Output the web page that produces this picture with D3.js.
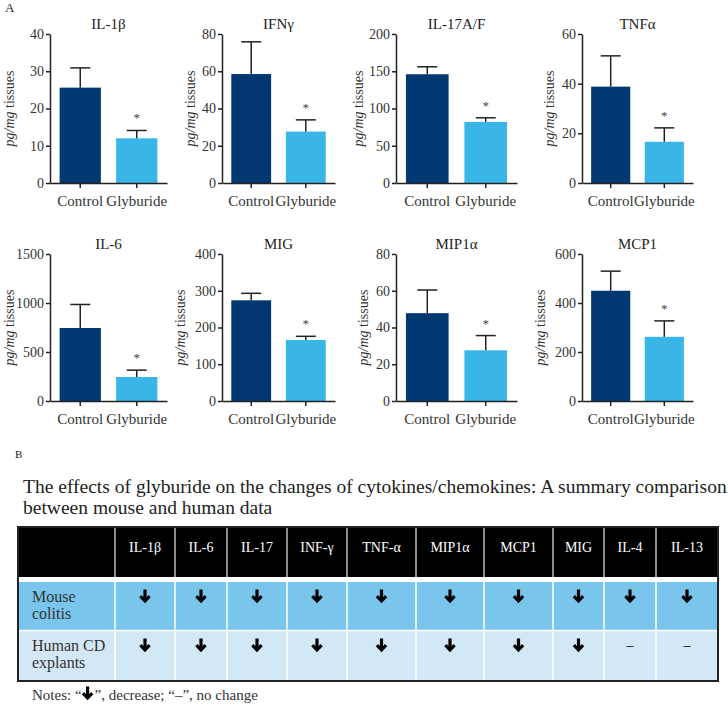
<!DOCTYPE html>
<html>
<head>
<meta charset="utf-8">
<script src="https://cdnjs.cloudflare.com/ajax/libs/d3/7.8.5/d3.min.js"></script>
<style>
body { margin: 0; background: #fff; }
</style>
</head>
<body>
<svg id="fig" width="728" height="705"></svg>
<script>
// panel A: mean and upper SEM whisker
var cytokines = ["IL-1β", "IFNγ", "IL-17A/F", "TNFα", "IL-6", "MIG", "MIP1α", "MCP1"];
var groups = ["Control", "Glyburide"];
var controlMean = [25.6, 58.5, 146, 38.8, 745, 274, 47.8, 450];
var controlSem = [5.3, 17.3, 10, 12.4, 240, 19, 12.6, 80];
var glyburideMean = [12.0, 27.6, 82, 16.6, 245, 166, 27.6, 262];
var glyburideSem = [2.1, 6.3, 5.5, 5.6, 70, 10, 8.0, 65];
var yMax = [40, 80, 200, 60, 1500, 400, 80, 600];
var yStep = [10, 20, 50, 20, 500, 100, 20, 200];

// panel B: summary table
var tableCols = ["IL-1β", "IL-6", "IL-17", "INF-γ", "TNF-α", "MIP1α", "MCP1", "MIG", "IL-4", "IL-13"];
var tableRowLabels = [["Mouse", "colitis"], ["Human CD", "explants"]];
var mouseColitis = ["down", "down", "down", "down", "down", "down", "down", "down", "down", "down"];
var humanExplants = ["down", "down", "down", "down", "down", "down", "down", "down", "none", "none"];

var barColors = ["#023872", "#3ab5e8"];
var ink = "#222";
var face = "'Liberation Serif'";

var svg = d3.select("#fig");

// layout of the 2x4 grid of small bar charts
var colX = [50, 222, 396, 582];
var plotW = [117, 113, 121, 111];
var rowTop = [34, 254];
var rowBottom = [183, 401];
var yLabelX = [9, 190, 358, 549, 9, 180, 363, 540];

svg.append("text").attr("x", 5).attr("y", 12)
	.style("font-size", "13px").attr("fill", ink).text("A");

cytokines.forEach(function(name, i) {
	var col = i % 4, row = Math.floor(i / 4);
	var g = svg.append("g");

	var x = d3.scaleBand().domain(groups)
		.range([colX[col], colX[col] + plotW[col]])
		.paddingInner(0.27).paddingOuter(0.17);
	var y = d3.scaleLinear().domain([0, yMax[i]])
		.range([rowBottom[row], rowTop[row]]);

	var means = [controlMean[i], glyburideMean[i]];
	var sems = [controlSem[i], glyburideSem[i]];
	var bars = groups.map(function(grp, j) {
		return {group: grp, mean: means[j], sem: sems[j], color: barColors[j]};
	});

	g.selectAll("rect.bar").data(bars).enter().append("rect")
		.attr("class", "bar")
		.attr("x", function(d) { return x(d.group); })
		.attr("width", x.bandwidth())
		.attr("y", function(d) { return y(d.mean); })
		.attr("height", function(d) { return y(0) - y(d.mean); })
		.attr("fill", function(d) { return d.color; });

	// upper whisker only
	var cx = function(d) { return x(d.group) + x.bandwidth() / 2; };
	g.selectAll("line.err").data(bars).enter().append("line")
		.attr("class", "err")
		.attr("x1", cx).attr("x2", cx)
		.attr("y1", function(d) { return y(d.mean); })
		.attr("y2", function(d) { return y(d.mean + d.sem); })
		.attr("stroke", ink).attr("stroke-width", 1.5);
	g.selectAll("line.cap").data(bars).enter().append("line")
		.attr("class", "cap")
		.attr("x1", function(d) { return cx(d) - 10; })
		.attr("x2", function(d) { return cx(d) + 10; })
		.attr("y1", function(d) { return y(d.mean + d.sem); })
		.attr("y2", function(d) { return y(d.mean + d.sem); })
		.attr("stroke", ink).attr("stroke-width", 1.5);

	// significance star over glyburide
	g.append("text")
		.attr("x", cx(bars[1]))
		.attr("y", y(bars[1].mean + bars[1].sem) - 8)
		.attr("text-anchor", "middle")
		.style("font-size", "13px").attr("fill", "#444").text("*");

	var yAxis = d3.axisLeft(y)
		.tickValues(d3.range(0, yMax[i] + 1, yStep[i]))
		.tickFormat(d3.format("d"))
		.tickSize(4).tickSizeOuter(0).tickPadding(2);
	var ya = g.append("g").attr("transform", "translate(" + colX[col] + ",0)").call(yAxis);
	ya.selectAll("text").style("font-size", "14px").attr("fill", "#333");

	var xAxis = d3.axisBottom(x).tickSize(5).tickSizeOuter(0).tickPadding(7);
	var xa = g.append("g").attr("transform", "translate(0," + y(0) + ")").call(xAxis);
	xa.selectAll("text").style("font-size", "15px").attr("fill", "#333");

	[ya, xa].forEach(function(a) {
		a.attr("font-family", null).attr("font-size", null);
		a.select(".domain").attr("stroke", ink).attr("stroke-width", 1.5);
		a.selectAll(".tick line").attr("stroke", ink).attr("stroke-width", 1.5);
	});

	g.append("text")
		.attr("x", colX[col] + plotW[col] / 2)
		.attr("y", rowTop[row] - 5)
		.attr("text-anchor", "middle")
		.style("font-size", "15px").attr("fill", ink).text(name);

	var lab = g.append("text")
		.attr("transform", "translate(" + yLabelX[i] + "," + (rowTop[row] + rowBottom[row]) / 2 + ") rotate(-90)")
		.attr("dy", "0.35em")
		.attr("text-anchor", "middle")
		.style("font-size", "14px").attr("fill", "#333");
	lab.append("tspan").style("font-style", "italic").text("pg/mg");
	lab.append("tspan").text(" tissues");
});

// ---- panel B ----
svg.append("text").attr("x", 15).attr("y", 458)
	.style("font-size", "11px").attr("fill", ink).text("B");

var titleLines = ["The effects of glyburide on the changes of cytokines/chemokines: A summary comparison",
	"between mouse and human data"];
var t1 = svg.append("text").attr("x", 23).attr("y", 493)
	.style("font-family", face)
	.style("font-size", "20px").attr("fill", ink).text(titleLines[0]);
var titleSize = 20 * 704 / t1.node().getComputedTextLength();
t1.style("font-size", titleSize + "px");
svg.append("text").attr("x", 23).attr("y", 514)
	.style("font-size", titleSize + "px").attr("fill", ink).text(titleLines[1]);

var edges = [18, 115, 175, 227, 287, 347, 416, 484, 553, 604, 656, 718];
var headTop = 527, headBottom = 577;
var rowBands = [[582, 630], [631, 680]];
var rowFills = ["#79c5ec", "#d3e8f6"];
var tableData = [mouseColitis, humanExplants];

var tbl = svg.append("g");
tbl.append("rect").attr("x", edges[0]).attr("y", headTop)
	.attr("width", edges[11] - edges[0]).attr("height", headBottom - headTop)
	.attr("fill", "#000");

rowBands.forEach(function(b, r) {
	tbl.append("rect").attr("x", edges[0]).attr("y", b[0])
		.attr("width", edges[11] - edges[0]).attr("height", b[1] - b[0])
		.attr("fill", rowFills[r]);
});

// cell separators
edges.slice(1, 11).forEach(function(ex) {
	tbl.append("line").attr("x1", ex).attr("x2", ex)
		.attr("y1", headTop + 1).attr("y2", headBottom)
		.attr("stroke", "#bbb").attr("stroke-width", 1.5);
	tbl.append("line").attr("x1", ex).attr("x2", ex)
		.attr("y1", rowBands[0][0]).attr("y2", rowBands[1][1])
		.attr("stroke", "#fff").attr("stroke-width", 1.5);
});
tbl.append("line").attr("x1", edges[0]).attr("x2", edges[11])
	.attr("y1", 630.5).attr("y2", 630.5)
	.attr("stroke", "#fff").attr("stroke-width", 1.5);

tableCols.forEach(function(c, k) {
	tbl.append("text")
		.attr("x", (edges[k + 1] + edges[k + 2]) / 2).attr("y", 552)
		.attr("text-anchor", "middle")
		.style("font-size", "14px").attr("fill", "#fff").text(c);
});

tableRowLabels.forEach(function(lines, r) {
	lines.forEach(function(s, l) {
		tbl.append("text").attr("x", 32).attr("y", rowBands[r][0] + 20 + l * 17)
			.style("font-size", "16px").attr("fill", "#333").text(s);
	});
});

function drawArrow(parent, ax, ay) {
	parent.append("path")
		.attr("d", "M" + ax + "," + (ay - 6.5) + "V" + (ay + 4.5) +
			"M" + (ax - 4.6) + "," + (ay + 0.2) + "L" + ax + "," + (ay + 5) + "L" + (ax + 4.6) + "," + (ay + 0.2))
		.attr("fill", "none").attr("stroke", "#000").attr("stroke-width", 3.2)
		.attr("stroke-linejoin", "miter");
}

tableData.forEach(function(vals, r) {
	vals.forEach(function(v, k) {
		var ax = (edges[k + 1] + edges[k + 2]) / 2;
		var ay = rowBands[r][0] + 14;
		if (v == "down") {
			drawArrow(tbl, ax, ay);
		} else {
			tbl.append("text").attr("x", ax).attr("y", ay + 5)
				.attr("text-anchor", "middle")
				.style("font-size", "14px").attr("fill", "#000").text("–");
		}
	});
});

tbl.append("rect").attr("x", edges[0]).attr("y", headTop)
	.attr("width", edges[11] - edges[0]).attr("height", 681 - headTop)
	.attr("fill", "none").attr("stroke", ink).attr("stroke-width", 2);

// notes line with the arrow glyph drawn in between
var n1 = svg.append("text").attr("x", 32).attr("y", 700)
	.style("font-family", face)
	.style("font-size", "15px").attr("fill", "#333").text("Notes: “");
var nx = 32 + n1.node().getComputedTextLength();
drawArrow(svg, nx + 6, 693);
svg.append("text").attr("x", nx + 13).attr("y", 700)
	.style("font-size", "15px").attr("fill", "#333").text(" ”, decrease; “–”, no change");

// same serif face everywhere
svg.selectAll("text").style("font-family", face);
</script>
</body>
</html>
